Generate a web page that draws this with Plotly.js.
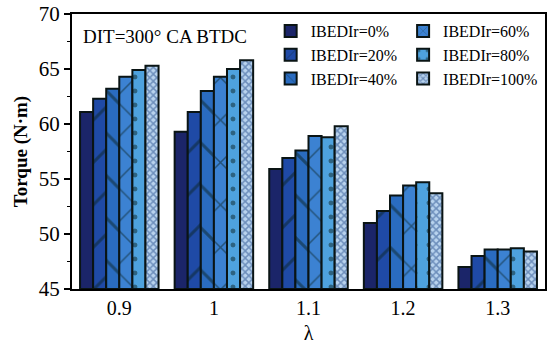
<!DOCTYPE html>
<html>
<head>
<meta charset="utf-8">
<script src="https://cdn.plot.ly/plotly-3.0.1.min.js"></script>
<style>html,body{margin:0;padding:0;background:#fff;}#chart{width:550px;height:344px;}</style>
</head>
<body>
<div id="chart"></div>
<script>
const categories = ['0.9', '1', '1.1', '1.2', '1.3'];
const seriesNames = ['IBEDIr=0%', 'IBEDIr=20%', 'IBEDIr=40%', 'IBEDIr=60%', 'IBEDIr=80%', 'IBEDIr=100%'];
const ibedir0 = [61.1, 59.3, 55.9, 51.0, 47.0];
const ibedir20 = [62.3, 61.1, 56.9, 52.1, 48.0];
const ibedir40 = [63.2, 63.0, 57.6, 53.5, 48.6];
const ibedir60 = [64.3, 64.3, 58.9, 54.4, 48.6];
const ibedir80 = [64.9, 65.0, 58.8, 54.7, 48.7];
const ibedir100 = [65.3, 65.8, 59.8, 53.7, 48.4];
const yTicks = [45, 50, 55, 60, 65, 70];
const yBase = 45;

const values = [ibedir0, ibedir20, ibedir40, ibedir60, ibedir80, ibedir100];
const fills = ['#1b2569', '#1f4aa6', '#2a6cc0', '#3c82d2', '#4ea2de', '#b8d3ee'];
const patterns = [
  {shape: ''},
  {shape: '/', size: 30, solidity: 0.1, fgcolor: '#0b2424', fillmode: 'overlay'},
  {shape: '\\', size: 30, solidity: 0.1, fgcolor: '#0b2424', fillmode: 'overlay'},
  {shape: 'x', size: 30, solidity: 0.1, fgcolor: '#0b2424', fillmode: 'overlay'},
  {shape: '.', size: 14, solidity: 0.1, fgcolor: '#0b2424', fillmode: 'overlay'},
  {shape: 'x', size: 5, solidity: 0.5, fgcolor: '#224a88', fillmode: 'overlay'}
];
const legendFor = ['legend', 'legend', 'legend', 'legend2', 'legend2', 'legend2'];

const traces = values.map((v, i) => ({
  type: 'bar',
  name: seriesNames[i],
  x: categories,
  y: v.map(val => val - yBase),
  base: yBase,
  legend: legendFor[i],
  hoverinfo: 'skip',
  marker: {
    color: fills[i],
    line: {color: '#0a1414', width: 2},
    pattern: patterns[i]
  }
}));

const font = 'Liberation Serif, Times New Roman, serif';
const layout = {
  width: 550, height: 344,
  margin: {l: 72, r: 5, t: 14, b: 55},
  paper_bgcolor: '#fff', plot_bgcolor: '#fff',
  font: {family: font, color: '#000', size: 20},
  barmode: 'group', bargap: 0.17, bargroupgap: 0,
  xaxis: {
    type: 'category',
    showline: true, linecolor: '#000', linewidth: 2, mirror: true,
    ticks: '', showgrid: false, zeroline: false,
    tickfont: {family: font, size: 20},
    title: {text: 'λ', font: {family: font, size: 20}, standoff: 8}
  },
  yaxis: {
    range: [45, 70],
    tickvals: yTicks,
    showline: true, linecolor: '#000', linewidth: 2, mirror: true,
    ticks: 'outside', ticklen: 6, tickwidth: 2, tickcolor: '#000',
    minor: {dtick: 2.5, ticks: 'outside', ticklen: 3, tickwidth: 1.5, tickcolor: '#000'},
    showgrid: false, zeroline: false,
    tickfont: {family: font, size: 21},
    title: {text: '<b>Torque (N·m)</b>', font: {family: font, size: 19}, standoff: 6}
  },
  legend: {
    x: 0.42, y: 1.0, xanchor: 'left', yanchor: 'top',
    bgcolor: 'rgba(0,0,0,0)', font: {family: font, size: 16},
    tracegroupgap: 0, itemwidth: 30
  },
  legend2: {
    x: 0.70, y: 1.0, xanchor: 'left', yanchor: 'top',
    bgcolor: 'rgba(0,0,0,0)', font: {family: font, size: 16},
    tracegroupgap: 0, itemwidth: 30
  },
  annotations: [{
    text: 'DIT=300° CA BTDC', xref: 'paper', yref: 'paper',
    x: 0.02, y: 0.965, xanchor: 'left', yanchor: 'top',
    showarrow: false, font: {family: font, size: 19}
  }]
};

Plotly.newPlot('chart', traces, layout, {displayModeBar: false, staticPlot: true});
</script>
</body>
</html>
